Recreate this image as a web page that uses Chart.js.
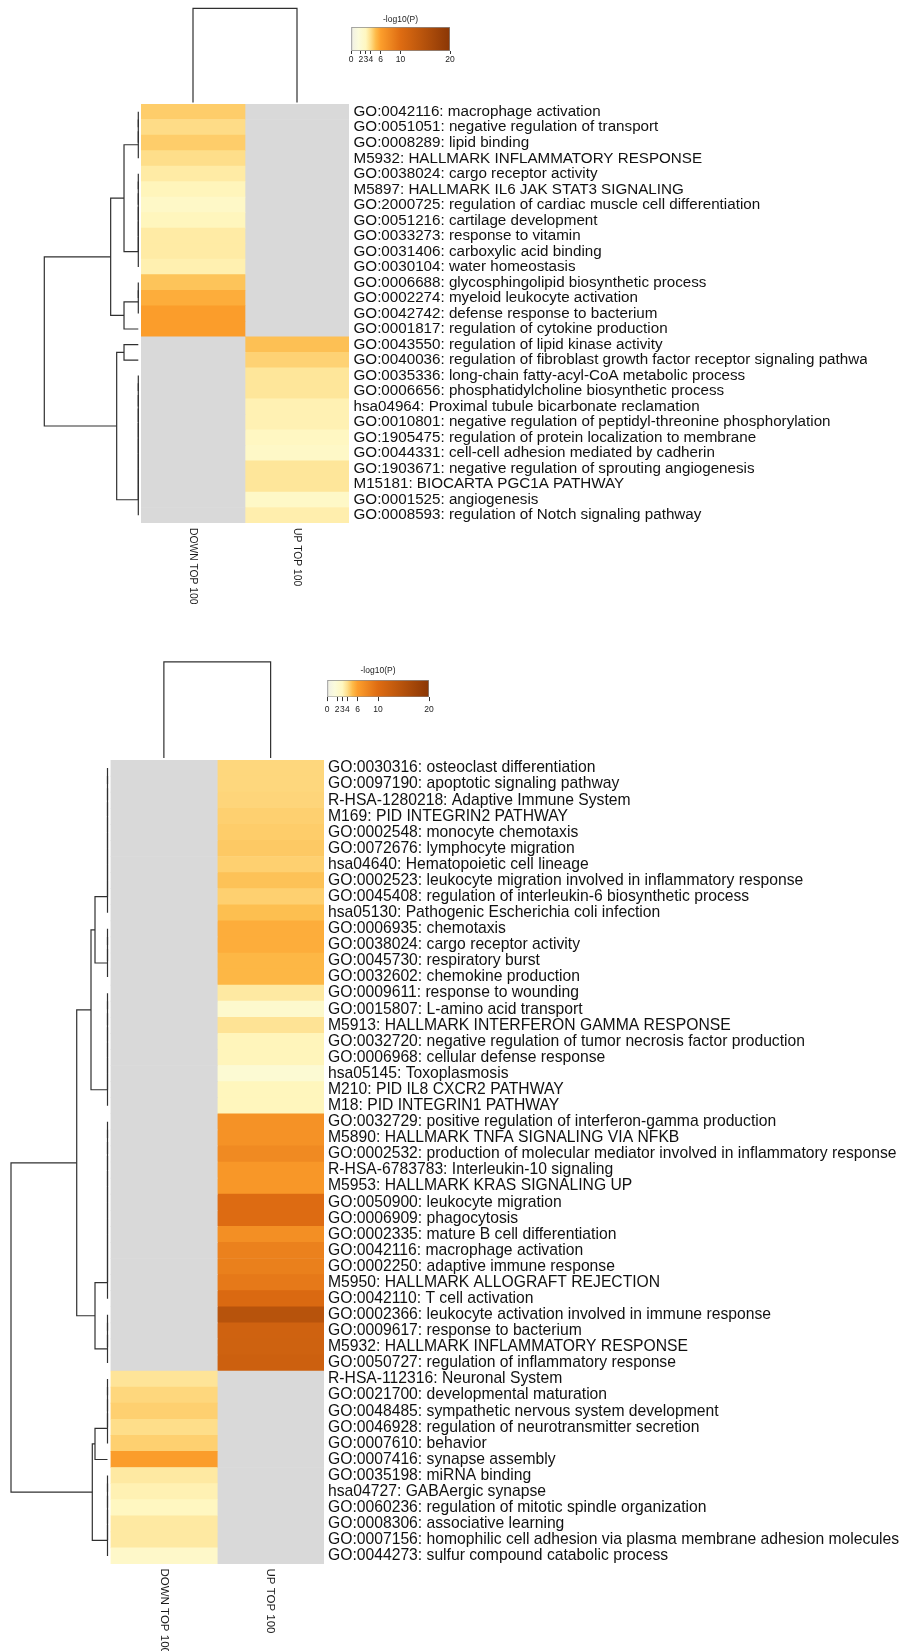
<!DOCTYPE html>
<html>
<head>
<meta charset="utf-8">
<title>Enrichment heatmaps</title>
<script src="https://cdn.jsdelivr.net/npm/chart.js@4.4.1/dist/chart.umd.min.js"></script>
<style>
  html, body { margin: 0; padding: 0; background: #fff; }
  #page { position: relative; width: 902px; height: 1651px; overflow: hidden; background: #fff; }
  #page canvas { position: absolute; }
</style>
</head>
<body>
<div id="page"></div>
<script>
// ---------------- data ----------------
const columnNames = ['DOWN TOP 100', 'UP TOP 100'];
const legendTicks = [0, 2, 3, 4, 6, 10, 20];

// upper heatmap: enriched terms and -log10(P) per gene list (null = not enriched)
const upperTerms = [
  'GO:0042116: macrophage activation',
  'GO:0051051: negative regulation of transport',
  'GO:0008289: lipid binding',
  'M5932: HALLMARK INFLAMMATORY RESPONSE',
  'GO:0038024: cargo receptor activity',
  'M5897: HALLMARK IL6 JAK STAT3 SIGNALING',
  'GO:2000725: regulation of cardiac muscle cell differentiation',
  'GO:0051216: cartilage development',
  'GO:0033273: response to vitamin',
  'GO:0031406: carboxylic acid binding',
  'GO:0030104: water homeostasis',
  'GO:0006688: glycosphingolipid biosynthetic process',
  'GO:0002274: myeloid leukocyte activation',
  'GO:0042742: defense response to bacterium',
  'GO:0001817: regulation of cytokine production',
  'GO:0043550: regulation of lipid kinase activity',
  'GO:0040036: regulation of fibroblast growth factor receptor signaling pathway',
  'GO:0035336: long-chain fatty-acyl-CoA metabolic process',
  'GO:0006656: phosphatidylcholine biosynthetic process',
  'hsa04964: Proximal tubule bicarbonate reclamation',
  'GO:0010801: negative regulation of peptidyl-threonine phosphorylation',
  'GO:1905475: regulation of protein localization to membrane',
  'GO:0044331: cell-cell adhesion mediated by cadherin',
  'GO:1903671: negative regulation of sprouting angiogenesis',
  'M15181: BIOCARTA PGC1A PATHWAY',
  'GO:0001525: angiogenesis',
  'GO:0008593: regulation of Notch signaling pathway'
];
const upperDown = [4.5, 4.05, 4.5, 4.0, 3.5, 3.1, 2.6, 3.05, 3.5, 3.5, 3.3, 4.75, 5.5, 6.1, 6.1,
  null, null, null, null, null, null, null, null, null, null, null, null];
const upperUp = [null, null, null, null, null, null, null, null, null, null, null, null, null, null, null,
  4.85, 4.35, 3.7, 3.7, 3.25, 3.25, 2.9, 2.6, 3.7, 3.7, 2.6, 3.35];
// row tree, hclust style: negative = row (1-based), positive = earlier merge, then height
const upperRowMerges = [
  [-1, -2, 0], [1, -3, 0], [2, -4, 0],
  [-5, -6, 0], [4, -7, 0], [5, -8, 0], [6, -9, 0], [7, -10, 0], [8, -11, 0],
  [3, 9, 0.152],
  [-12, -13, 0], [11, -14, 0], [12, -15, 0.152],
  [10, 13, 0.294],
  [-16, -17, 0.152],
  [-18, -19, 0], [16, -20, 0], [17, -21, 0], [18, -22, 0], [19, -23, 0], [20, -24, 0],
  [21, -25, 0], [22, -26, 0], [23, -27, 0],
  [15, 24, 0.23],
  [14, 25, 1.0]
];
const upperColMerges = [[-1, -2, 1.0]];

// lower heatmap
const lowerTerms = [
  'GO:0030316: osteoclast differentiation',
  'GO:0097190: apoptotic signaling pathway',
  'R-HSA-1280218: Adaptive Immune System',
  'M169: PID INTEGRIN2 PATHWAY',
  'GO:0002548: monocyte chemotaxis',
  'GO:0072676: lymphocyte migration',
  'hsa04640: Hematopoietic cell lineage',
  'GO:0002523: leukocyte migration involved in inflammatory response',
  'GO:0045408: regulation of interleukin-6 biosynthetic process',
  'hsa05130: Pathogenic Escherichia coli infection',
  'GO:0006935: chemotaxis',
  'GO:0038024: cargo receptor activity',
  'GO:0045730: respiratory burst',
  'GO:0032602: chemokine production',
  'GO:0009611: response to wounding',
  'GO:0015807: L-amino acid transport',
  'M5913: HALLMARK INTERFERON GAMMA RESPONSE',
  'GO:0032720: negative regulation of tumor necrosis factor production',
  'GO:0006968: cellular defense response',
  'hsa05145: Toxoplasmosis',
  'M210: PID IL8 CXCR2 PATHWAY',
  'M18: PID INTEGRIN1 PATHWAY',
  'GO:0032729: positive regulation of interferon-gamma production',
  'M5890: HALLMARK TNFA SIGNALING VIA NFKB',
  'GO:0002532: production of molecular mediator involved in inflammatory response',
  'R-HSA-6783783: Interleukin-10 signaling',
  'M5953: HALLMARK KRAS SIGNALING UP',
  'GO:0050900: leukocyte migration',
  'GO:0006909: phagocytosis',
  'GO:0002335: mature B cell differentiation',
  'GO:0042116: macrophage activation',
  'GO:0002250: adaptive immune response',
  'M5950: HALLMARK ALLOGRAFT REJECTION',
  'GO:0042110: T cell activation',
  'GO:0002366: leukocyte activation involved in immune response',
  'GO:0009617: response to bacterium',
  'M5932: HALLMARK INFLAMMATORY RESPONSE',
  'GO:0050727: regulation of inflammatory response',
  'R-HSA-112316: Neuronal System',
  'GO:0021700: developmental maturation',
  'GO:0048485: sympathetic nervous system development',
  'GO:0046928: regulation of neurotransmitter secretion',
  'GO:0007610: behavior',
  'GO:0007416: synapse assembly',
  'GO:0035198: miRNA binding',
  'hsa04727: GABAergic synapse',
  'GO:0060236: regulation of mitotic spindle organization',
  'GO:0008306: associative learning',
  'GO:0007156: homophilic cell adhesion via plasma membrane adhesion molecules',
  'GO:0044273: sulfur compound catabolic process'
];
const lowerDown = [
  null, null, null, null, null, null, null, null, null, null,
  null, null, null, null, null, null, null, null, null, null,
  null, null, null, null, null, null, null, null, null, null,
  null, null, null, null, null, null, null, null,
  3.75, 4.2, 4.4, 4.0, 4.4, 6.1, 3.55, 3.25, 2.95, 3.55, 3.55, 2.5
];
const lowerUp = [
  4.2, 4.2, 4.25, 4.4, 4.5, 4.6, 4.4, 4.8, 4.4, 4.9,
  5.5, 5.5, 5.15, 5.15, 3.55, 2.3, 3.8, 3.1, 3.1, 2.0,
  3.05, 3.05, 7.0, 7.0, 7.6, 6.6, 6.6, 10.1, 10.1, 7.2,
  8.3, 8.4, 9.0, 10.5, 14.6, 11.8, 11.9, 12.2,
  null, null, null, null, null, null, null, null, null, null, null, null
];
const lowerRowMerges = [
  [-1, -2, 0], [1, -3, 0], [2, -4, 0], [3, -5, 0], [4, -6, 0], [5, -7, 0], [6, -8, 0], [7, -9, 0], [8, -10, 0],
  [-11, -12, 0], [10, -13, 0], [11, -14, 0],
  [9, 12, 0.1295],
  [-15, -16, 0], [14, -17, 0], [15, -18, 0], [16, -19, 0], [17, -20, 0], [18, -21, 0], [19, -22, 0],
  [13, 20, 0.171],
  [-23, -24, 0], [22, -25, 0], [23, -26, 0], [24, -27, 0], [25, -28, 0], [26, -29, 0], [27, -30, 0],
  [28, -31, 0], [29, -32, 0], [30, -33, 0], [31, -34, 0],
  [-35, -36, 0], [33, -37, 0], [34, -38, 0],
  [32, 35, 0.1295],
  [21, 36, 0.319],
  [-39, -40, 0], [38, -41, 0], [39, -42, 0], [40, -43, 0],
  [41, -44, 0.1295],
  [-45, -46, 0], [43, -47, 0], [44, -48, 0], [45, -49, 0], [46, -50, 0],
  [42, 47, 0.1575],
  [37, 48, 1.0]
];
const lowerColMerges = [[-1, -2, 1.0]];

// colour ramp for -log10(P)
const rampValues = [0, 1.5, 3, 4, 5, 6, 10, 20];
const rampColors = ['#efefe6', '#fbfbdc', '#fff7c0', '#fede8a', '#fdbb4a', '#fc9e2c', '#de6c12', '#8a3605'];

// ---------------- helpers ----------------
const FONT = '"Liberation Sans", Arial, Helvetica, sans-serif';
const MISSING = '#d9d9d9';
const LINE = '#303030';

function hexToRgb(h) { const n = parseInt(h.slice(1), 16); return [(n >> 16) & 255, (n >> 8) & 255, n & 255]; }
function mix(a, b, t) {
  const A = hexToRgb(a), B = hexToRgb(b);
  return 'rgb(' + A.map((c, i) => Math.round(c + (B[i] - c) * t)).join(',') + ')';
}
function rampColor(v) {
  if (v === null || v === undefined) return MISSING;
  if (v <= rampValues[0]) return rampColors[0];
  for (let i = 1; i < rampValues.length; i++) {
    if (v <= rampValues[i]) {
      const t = (v - rampValues[i - 1]) / (rampValues[i] - rampValues[i - 1]);
      return mix(rampColors[i - 1], rampColors[i], t);
    }
  }
  return rampColors[rampColors.length - 1];
}

// links of an hclust-style merge table: [[height, position], ...] for each U
function dendrogram(merges) {
  const pos = [], hgt = [], links = [];
  const at = k => (k < 0 ? [-k - 1, 0] : [pos[k - 1], hgt[k - 1]]);
  merges.forEach(([a, b, h]) => {
    const [pa, ha] = at(a), [pb, hb] = at(b);
    links.push([[ha, pa], [h, pa], [h, pb], [hb, pb]]);
    pos.push((pa + pb) / 2);
    hgt.push(h);
  });
  return links;
}

function addCanvas(box) {
  const c = document.createElement('canvas');
  c.width = box.w; c.height = box.h;
  c.style.left = box.x + 'px'; c.style.top = box.y + 'px';
  c.style.width = box.w + 'px'; c.style.height = box.h + 'px';
  document.getElementById('page').appendChild(c);
  return c;
}

function baseOptions() {
  return {
    responsive: false, animation: false, devicePixelRatio: 1, events: [],
    plugins: { legend: { display: false }, tooltip: { enabled: false }, title: { display: false } }
  };
}

// vertical column names under the heatmap
const columnLabelPlugin = {
  id: 'columnLabels',
  afterDraw(chart, args, opts) {
    const { ctx, chartArea } = chart;
    const xs = chart.scales.x;
    ctx.save();
    ctx.font = opts.size + 'px ' + FONT;
    ctx.fillStyle = opts.color;
    ctx.textAlign = 'left';
    ctx.textBaseline = 'middle';
    chart.data.datasets.forEach((ds, i) => {
      ctx.save();
      ctx.translate(xs.getPixelForValue(i + 0.5), chartArea.bottom + opts.gap);
      ctx.rotate(Math.PI / 2);
      ctx.fillText(ds.label, 0, 0);
      ctx.restore();
    });
    ctx.restore();
  }
};

function heatmapChart(box, lay, terms, values) {
  const opts = baseOptions();
  opts.indexAxis = 'y';
  opts.layout = { padding: lay.pad };
  opts.scales = {
    x: { type: 'linear', stacked: true, display: false, min: 0, max: columnNames.length },
    y: {
      type: 'category', stacked: true, position: 'right',
      grid: { display: false, drawTicks: false }, border: { display: false },
      ticks: { autoSkip: false, padding: lay.tickPad, color: '#111', font: { family: FONT, size: lay.fontSize } },
      afterFit(s) { s.width = lay.labelWidth; s.paddingTop = 0; s.paddingBottom = 0; }
    }
  };
  opts.plugins.columnLabels = { gap: lay.colGap, size: lay.colFont, color: '#1a1a1a' };
  new Chart(addCanvas(box), {
    type: 'bar',
    data: {
      labels: terms,
      datasets: columnNames.map((name, j) => ({
        label: name,
        data: terms.map(() => 1),
        backgroundColor: values[j].map(rampColor),
        borderWidth: 0, barPercentage: 1, categoryPercentage: 1
      }))
    },
    options: opts,
    plugins: [columnLabelPlugin]
  });
}

function lineDatasets(links, toPoint) {
  return links.map(l => ({
    data: l.map(toPoint), showLine: true, borderColor: LINE, borderWidth: 1.2,
    pointRadius: 0, tension: 0, clip: false
  }));
}

function rowTreeChart(box, lay, merges, n) {
  const opts = baseOptions();
  opts.layout = { padding: lay.pad };
  opts.scales = {
    x: { type: 'linear', display: false, reverse: true, min: 0, max: lay.hMax },
    y: { type: 'linear', display: false, reverse: true, min: -0.5, max: n - 0.5 }
  };
  new Chart(addCanvas(box), {
    type: 'scatter',
    data: { datasets: lineDatasets(dendrogram(merges), ([h, p]) => ({ x: h, y: p })) },
    options: opts
  });
}

function colTreeChart(box, lay, merges) {
  const opts = baseOptions();
  opts.layout = { padding: lay.pad };
  opts.scales = {
    x: { type: 'linear', display: false, min: -0.5, max: columnNames.length - 0.5 },
    y: { type: 'linear', display: false, min: 0, max: lay.hMax }
  };
  new Chart(addCanvas(box), {
    type: 'scatter',
    data: { datasets: lineDatasets(dendrogram(merges), ([h, p]) => ({ x: p, y: h })) },
    options: opts
  });
}

function legendFill(context) {
  const chart = context.chart;
  if (!chart.chartArea) return MISSING;
  const xs = chart.scales.x;
  const lo = legendTicks[0], hi = legendTicks[legendTicks.length - 1];
  const g = chart.ctx.createLinearGradient(xs.getPixelForValue(lo), 0, xs.getPixelForValue(hi), 0);
  rampValues.forEach((v, i) => g.addColorStop((v - lo) / (hi - lo), rampColors[i]));
  return g;
}

function legendChart(box, lay) {
  const opts = baseOptions();
  opts.indexAxis = 'y';
  opts.layout = { padding: lay.pad };
  opts.plugins.title = {
    display: true, text: '-log10(P)', color: '#222',
    font: { family: FONT, size: lay.fontSize, weight: 'normal' },
    padding: { top: 0, bottom: lay.titleGap }
  };
  opts.scales = {
    x: {
      type: 'linear', min: legendTicks[0], max: legendTicks[legendTicks.length - 1],
      afterBuildTicks(s) { s.ticks = legendTicks.map(v => ({ value: v })); },
      grid: { drawOnChartArea: false, drawTicks: true, tickLength: lay.tickLength, color: '#333' },
      border: { display: false },
      ticks: { autoSkip: false, minRotation: 0, maxRotation: 0, padding: lay.tickPad, color: '#222',
               font: { family: FONT, size: lay.fontSize } }
    },
    y: { display: false }
  };
  new Chart(addCanvas(box), {
    type: 'bar',
    data: {
      labels: ['-log10(P)'],
      datasets: [{
        data: [[legendTicks[0], legendTicks[legendTicks.length - 1]]],
        backgroundColor: legendFill, borderColor: '#8c8c8c', borderWidth: 1, borderSkipped: false,
        barPercentage: 1, categoryPercentage: 1
      }]
    },
    options: opts
  });
}

// ---------------- upper panel ----------------
// 27 rows of 15.52px from y=104 to y=523
heatmapChart({ x: 141, y: 104, w: 726, h: 526 },
  { pad: { left: 0, right: 0, top: 0, bottom: 107 }, labelWidth: 518, tickPad: 4.5, fontSize: 15.2, colGap: 5, colFont: 10.3 },
  upperTerms, [upperDown, upperUp]);
rowTreeChart({ x: 0, y: 104, w: 141, h: 419 },
  { pad: { left: 0, right: 2.7, top: 0, bottom: 0 }, hMax: 1.4713 }, upperRowMerges, upperTerms.length);
colTreeChart({ x: 141, y: 0, w: 208, h: 104 },
  { pad: { left: 0, right: 0, top: 0, bottom: 1.4 }, hMax: 1.088 }, upperColMerges);
legendChart({ x: 340, y: 12, w: 120, h: 55 },
  { pad: { left: 11, right: 10, top: 2.8, bottom: 0.8 }, fontSize: 8.5, titleGap: 2, tickLength: 3, tickPad: 1 });

// ---------------- lower panel ----------------
// 50 rows of 16.08px from y=760 to y=1564
heatmapChart({ x: 110, y: 760, w: 792, h: 891 },
  { pad: { left: 0.5, right: 0, top: 0, bottom: 87 }, labelWidth: 578, tickPad: 4, fontSize: 15.7, colGap: 4.5, colFont: 11.5 },
  lowerTerms, [lowerDown, lowerUp]);
rowTreeChart({ x: 0, y: 760, w: 110, h: 804 },
  { pad: { left: 0, right: 2.5, top: 0, bottom: 0 }, hMax: 1.114 }, lowerRowMerges, lowerTerms.length);
colTreeChart({ x: 110, y: 650, w: 215, h: 110 },
  { pad: { left: 0.5, right: 1, top: 0, bottom: 2.1 }, hMax: 1.1228 }, lowerColMerges);
legendChart({ x: 316, y: 664, w: 124, h: 56 },
  { pad: { left: 11, right: 11, top: 1.4, bottom: 0.9 }, fontSize: 8.5, titleGap: 4.4, tickLength: 4, tickPad: 3.9 });
</script>
</body>
</html>
